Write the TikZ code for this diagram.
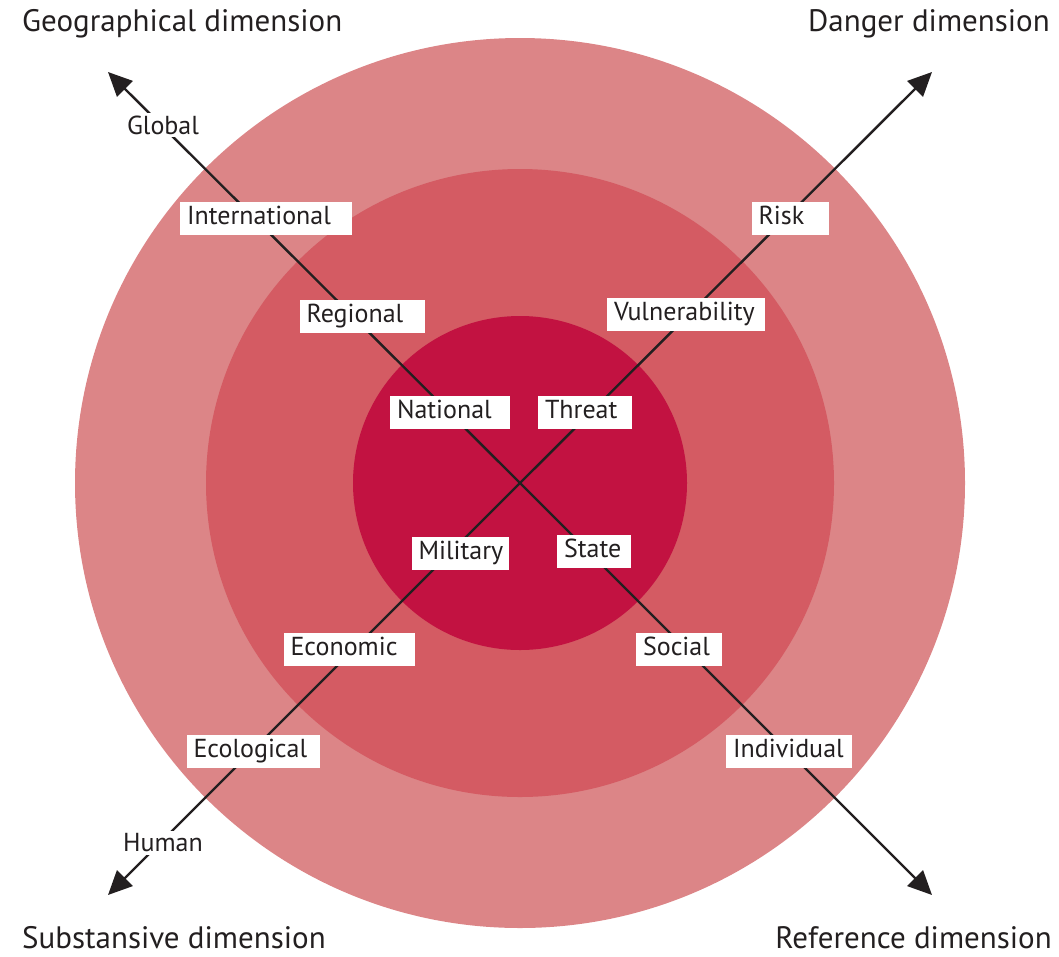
\documentclass[tikz,border=0pt]{standalone}
\usepackage{fontspec}
\setmainfont{PT Sans}
\usetikzlibrary{arrows.meta}
\definecolor{ringA}{HTML}{DC8587}
\definecolor{ringB}{HTML}{D45B63}
\definecolor{ringC}{HTML}{C21241}
\definecolor{ink}{HTML}{231F20}
\tikzset{
  lbl/.style={fill=white, text=ink, font=\fontsize{26}{28}\selectfont, inner xsep=7pt, inner ysep=4pt, text height=19pt, text depth=6pt, align=left},
  free/.style={fill=white, text=ink, font=\fontsize{26}{28}\selectfont, inner sep=3pt},
  title/.style={text=ink, font=\fontsize{31}{33}\selectfont, inner sep=0pt},
  axis/.style={ink, line width=2.4pt, -{Triangle[length=24pt,width=22pt]}},
}
\begin{document}
\begin{tikzpicture}[x=1pt,y=-1pt]
\useasboundingbox (0,0) rectangle (1059,956);
\coordinate (c) at (520,483);
\fill[ringA] (c) circle[radius=445];
\fill[ringB] (c) circle[radius=314];
\fill[ringC] (c) circle[radius=167];
\coordinate (tl) at (108,72);
\coordinate (br) at (932,895);
\coordinate (tr) at (932,72);
\coordinate (bl) at (108,895);
\draw[axis] (c) -- (tl);
\draw[axis] (c) -- (br);
\draw[axis] (c) -- (tr);
\draw[axis] (c) -- (bl);
\node[free] (global) at (163,125) {Global};
\node[free] (human) at (163,843) {Human};
\node[lbl, text width=158pt] (intl) at (266,218) {International};
\node[lbl, text width=111pt] (reg) at (362,316) {Regional};
\node[lbl, text width=106pt] (nat) at (450,412) {National};
\node[lbl, text width=80pt] (thr) at (585,412) {Threat};
\node[lbl, text width=144pt] (vul) at (686,314) {Vulnerability};
\node[lbl, text width=63pt] (risk) at (790,218) {Risk};
\node[lbl, text width=83pt] (mil) at (460,553) {Military};
\node[lbl, text width=60pt] (state) at (594,551) {State};
\node[lbl, text width=117pt] (eco) at (349,649) {Economic};
\node[lbl, text width=72pt] (soc) at (679,649) {Social};
\node[lbl, text width=119pt] (ecol) at (253,751) {Ecological};
\node[lbl, text width=112pt] (ind) at (789,751) {Individual};
\node[title, anchor=base west] (geo) at (22,31) {Geographical dimension};
\node[title, anchor=base east] (dan) at (1050,31) {Danger dimension};
\node[title, anchor=base west] (sub) at (22,948) {Substansive dimension};
\node[title, anchor=base east] (ref) at (1052,948) {Reference dimension};
\end{tikzpicture}
\end{document}
